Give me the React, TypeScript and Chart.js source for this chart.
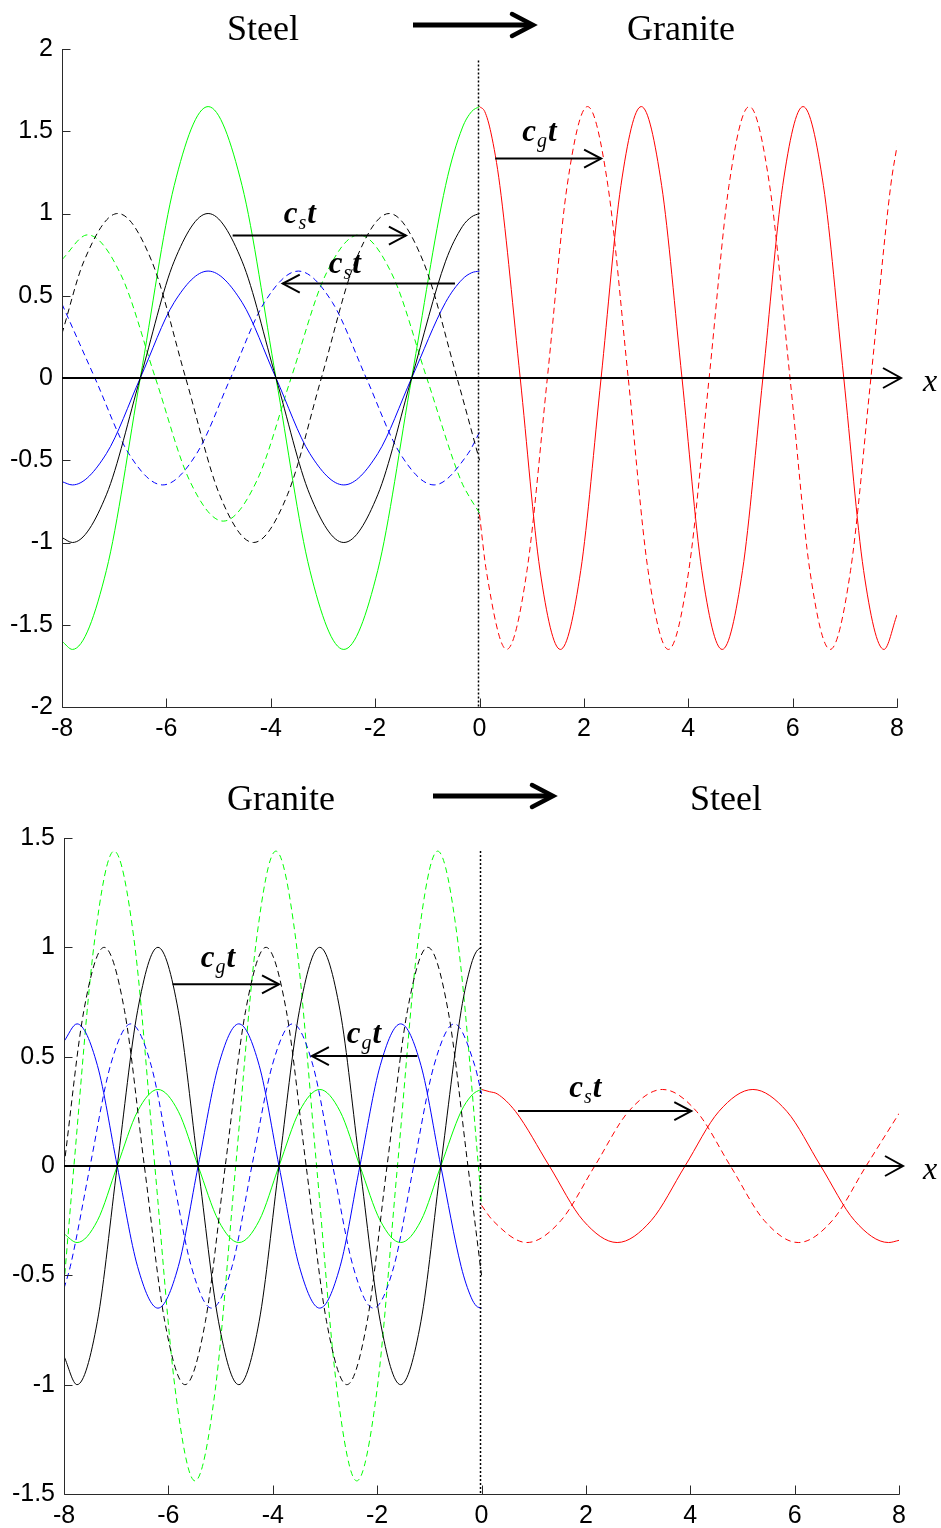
import React, { useEffect, useRef } from "react";
import { Chart, registerables } from "chart.js";

Chart.register(...registerables);

// ================= TOP PANEL: Steel -> Granite =================
// steel side (x <= 0), solid curves share one x grid
const topSolidX = [-8, -7.8, -7.15, -6.5, -5.85, -5.2, -4.55, -3.9, -3.25, -2.6, -1.95, -1.3, -0.65, -0.33, -0.15, 0];
const topBlackSolid = [-0.97, -1, -0.71, 0, 0.71, 1, 0.71, 0, -0.71, -1, -0.71, 0, 0.71, 0.92, 0.98, 1];
const topBlueSolid = [-0.63, -0.65, -0.46, 0, 0.46, 0.65, 0.46, 0, -0.46, -0.65, -0.46, 0, 0.46, 0.6, 0.64, 0.65];
const topGreenSolid = [-1.6, -1.65, -1.17, 0, 1.17, 1.65, 1.17, 0, -1.17, -1.65, -1.17, 0, 1.17, 1.52, 1.62, 1.65];

const topBlackDashX = [-8, -7.58, -6.93, -6.28, -5.63, -4.98, -4.33, -3.68, -3.03, -2.38, -1.73, -1.08, -0.43, 0];
const topBlackDash = [0.27, 0.71, 1, 0.71, 0, -0.71, -1, -0.71, 0, 0.71, 1, 0.71, 0, -0.5];

const topBlueDashX = [-8, -7.37, -6.72, -6.07, -5.42, -4.77, -4.12, -3.47, -2.82, -2.17, -1.52, -0.87, -0.22, 0];
const topBlueDash = [0.45, 0, -0.46, -0.65, -0.46, 0, 0.46, 0.65, 0.46, 0, -0.46, -0.65, -0.46, -0.33];

const topGreenDashX = [-8, -7.51, -6.86, -6.21, -5.56, -4.91, -4.26, -3.61, -2.96, -2.31, -1.66, -1.01, -0.36, -0.18, 0];
const topGreenDash = [0.72, 0.87, 0.62, 0, -0.62, -0.87, -0.62, 0, 0.62, 0.87, 0.62, 0, -0.62, -0.73, -0.82];

// granite side (x >= 0)
const topRedSolidX = [0, 0.1, 0.22, 0.39, 0.78, 1.16, 1.55, 1.94, 2.33, 2.71, 3.1, 3.49, 3.88, 4.26, 4.65, 5.04, 5.43, 5.81, 6.2, 6.59, 6.98, 7.36, 7.75, 8];
const topRedSolid = [1.65, 1.62, 1.49, 1.17, 0, -1.17, -1.65, -1.17, 0, 1.17, 1.65, 1.17, 0, -1.17, -1.65, -1.17, 0, 1.17, 1.65, 1.17, 0, -1.17, -1.65, -1.44];

const topRedDashX = [0, 0.13, 0.52, 0.91, 1.3, 1.68, 2.07, 2.46, 2.85, 3.23, 3.62, 4.01, 4.4, 4.78, 5.17, 5.56, 5.95, 6.33, 6.72, 7.11, 7.5, 7.88, 8];
const topRedDash = [-0.83, -1.17, -1.65, -1.17, 0, 1.17, 1.65, 1.17, 0, -1.17, -1.65, -1.17, 0, 1.17, 1.65, 1.17, 0, -1.17, -1.65, -1.17, 0, 1.17, 1.41];

// ================= BOTTOM PANEL: Granite -> Steel =================
const botSolidX = [-8, -7.75, -7.36, -6.98, -6.59, -6.2, -5.81, -5.43, -5.04, -4.65, -4.26, -3.88, -3.49, -3.1, -2.71, -2.33, -1.94, -1.55, -1.16, -0.78, -0.39, -0.2, -0.1, 0];
const botBlackSolid = [-0.87, -1, -0.71, 0, 0.71, 1, 0.71, 0, -0.71, -1, -0.71, 0, 0.71, 1, 0.71, 0, -0.71, -1, -0.71, 0, 0.71, 0.92, 0.98, 1];
const botBlueSolid = [0.57, 0.65, 0.46, 0, -0.46, -0.65, -0.46, 0, 0.46, 0.65, 0.46, 0, -0.46, -0.65, -0.46, 0, 0.46, 0.65, 0.46, 0, -0.46, -0.6, -0.64, -0.65];
const botGreenSolid = [-0.31, -0.35, -0.25, 0, 0.25, 0.35, 0.25, 0, -0.25, -0.35, -0.25, 0, 0.25, 0.35, 0.25, 0, -0.25, -0.35, -0.25, 0, 0.25, 0.32, 0.34, 0.35];

const botBlackDashX = [-8, -7.62, -7.23, -6.84, -6.46, -6.07, -5.68, -5.29, -4.91, -4.52, -4.13, -3.74, -3.36, -2.97, -2.58, -2.19, -1.81, -1.42, -1.03, -0.64, -0.26, 0];
const botBlackDash = [0, 0.71, 1, 0.71, 0, -0.71, -1, -0.71, 0, 0.71, 1, 0.71, 0, -0.71, -1, -0.71, 0, 0.71, 1, 0.71, 0, -0.5];

const botBlueDashX = [-8, -7.88, -7.5, -7.11, -6.72, -6.33, -5.95, -5.56, -5.17, -4.78, -4.4, -4.01, -3.62, -3.23, -2.85, -2.46, -2.07, -1.68, -1.3, -0.91, -0.52, -0.13, 0];
const botBlueDash = [-0.56, -0.46, 0, 0.46, 0.65, 0.46, 0, -0.46, -0.65, -0.46, 0, 0.46, 0.65, 0.46, 0, -0.46, -0.65, -0.46, 0, 0.46, 0.65, 0.46, 0.33];

const botGreenDashX = [-8, -7.81, -7.42, -7.04, -6.65, -6.26, -5.87, -5.49, -5.1, -4.71, -4.32, -3.94, -3.55, -3.16, -2.77, -2.39, -2.0, -1.61, -1.22, -0.84, -0.45, -0.06, 0];
const botGreenDash = [-0.54, 0, 1.02, 1.44, 1.02, 0, -1.02, -1.44, -1.02, 0, 1.02, 1.44, 1.02, 0, -1.02, -1.44, -1.02, 0, 1.02, 1.44, 1.02, 0, -0.18];

const botRedSolidX = [0, 0.15, 0.3, 0.65, 1.3, 1.95, 2.6, 3.25, 3.9, 4.55, 5.2, 5.85, 6.5, 7.15, 7.8, 8];
const botRedSolid = [0.35, 0.34, 0.33, 0.25, 0, -0.25, -0.35, -0.25, 0, 0.25, 0.35, 0.25, 0, -0.25, -0.35, -0.34];

const botRedDashX = [0, 0.22, 0.87, 1.52, 2.17, 2.82, 3.47, 4.12, 4.77, 5.42, 6.07, 6.72, 7.37, 8];
const botRedDash = [-0.18, -0.25, -0.35, -0.25, 0, 0.25, 0.35, 0.25, 0, -0.25, -0.35, -0.25, 0, 0.24];

// ================= ticks =================
const xTicks = [-8, -6, -4, -2, 0, 2, 4, 6, 8];
const xTickLabels = ["-8", "-6", "-4", "-2", "0", "2", "4", "6", "8"];
const topYTicks = [-2, -1.5, -1, -0.5, 0, 0.5, 1, 1.5, 2];
const topYTickLabels = ["-2", "-1.5", "-1", "-0.5", "0", "0.5", "1", "1.5", "2"];
const botYTicks = [-1.5, -1, -0.5, 0, 0.5, 1, 1.5];
const botYTickLabels = ["-1.5", "-1", "-0.5", "0", "0.5", "1", "1.5"];

// ================= annotations (data coords) =================
const topArrowsX1 = [-4.73, -0.47, 0.3];
const topArrowsX2 = [-1.41, -3.77, 2.33];
const topArrowsY = [0.866, 0.574, 1.334];
const topLabelX = [-3.75, -2.89, 0.82];
const topLabelY = [0.945, 0.641, 1.438];
const topLabelSub = ["s", "s", "g"];
const topDottedFrom = 1.93;

const botArrowsX1 = [-5.92, -1.23, 0.7];
const botArrowsX2 = [-3.88, -3.25, 4.02];
const botArrowsY = [0.831, 0.503, 0.251];
const botLabelX = [-5.38, -2.58, 1.68];
const botLabelY = [0.909, 0.562, 0.315];
const botLabelSub = ["g", "g", "s"];
const botDottedFrom = 1.44;

const topTitles = ["Steel", "Granite"];
const botTitles = ["Granite", "Steel"];

const BLACK = "#000000";
const BLUE = "#0000ff";
const GREEN = "#00ff00";
const RED = "#ff0000";

function ds(xs: number[], ys: number[], color: string, dashed: boolean) {
  return {
    data: xs.map((x, i) => ({ x, y: ys[i] })),
    borderColor: color,
    borderWidth: 1,
    borderDash: dashed ? [6, 4] : [],
    pointRadius: 0,
    fill: false,
    cubicInterpolationMode: "monotone",
  };
}

type Layout = {
  left: number;
  right: number;
  top: number;
  bottom: number;
  titleX: number[];
  titleBaseline: number;
  bigArrow: [number, number, number];
};

type PanelCfg = {
  datasets: any[];
  yMin: number;
  yMax: number;
  yTicks: number[];
  yTickLabels: string[];
  arrowsX1: number[];
  arrowsX2: number[];
  arrowsY: number[];
  labelX: number[];
  labelY: number[];
  labelSub: string[];
  dottedFrom: number;
  titles: string[];
  layout: Layout;
};

function arrowHead(ctx: CanvasRenderingContext2D, tx: number, ty: number, dir: number, dx: number, dy: number) {
  ctx.beginPath();
  ctx.moveTo(tx - dir * dx, ty - dy);
  ctx.lineTo(tx, ty);
  ctx.lineTo(tx - dir * dx, ty + dy);
  ctx.stroke();
}

function makeOverlay(p: PanelCfg) {
  return {
    id: "overlay",
    afterDatasetsDraw(chart: any) {
      const ctx: CanvasRenderingContext2D = chart.ctx;
      const a = chart.chartArea;
      const sx = chart.scales.x;
      const sy = chart.scales.y;
      const X = (v: number) => sx.getPixelForValue(v);
      const Y = (v: number) => sy.getPixelForValue(v);
      ctx.save();

      // boundary dotted line at x = 0
      ctx.strokeStyle = BLACK;
      ctx.lineWidth = 1.5;
      ctx.setLineDash([2, 2]);
      ctx.beginPath();
      const bx = X(0) - 1;
      ctx.moveTo(bx, Y(p.dottedFrom));
      ctx.lineTo(bx, a.bottom);
      ctx.stroke();
      ctx.setLineDash([]);

      // axes
      ctx.strokeStyle = "#2a2a2a";
      ctx.lineWidth = 1;
      const L = Math.round(a.left) + 0.5;
      const B = Math.round(a.bottom) + 0.5;
      ctx.beginPath();
      ctx.moveTo(L, Math.round(a.top));
      ctx.lineTo(L, B);
      ctx.lineTo(Math.round(a.right) + 0.5, B);
      p.yTicks.forEach((v) => {
        const py = Math.round(Y(v)) + 0.5;
        ctx.moveTo(L, py);
        ctx.lineTo(L + 8, py);
      });
      xTicks.forEach((v) => {
        const px = Math.round(X(v)) + 0.5;
        ctx.moveTo(px, B);
        ctx.lineTo(px, B - 9);
      });
      ctx.stroke();

      // x axis arrow along y = 0
      const y0 = Y(0);
      const tip = a.right + 4;
      ctx.strokeStyle = BLACK;
      ctx.lineWidth = 2;
      ctx.beginPath();
      ctx.moveTo(a.left, y0);
      ctx.lineTo(tip, y0);
      ctx.stroke();
      arrowHead(ctx, tip, y0, 1, 18, 10);
      ctx.fillStyle = BLACK;
      ctx.font = 'italic 32px "Liberation Serif"';
      ctx.textAlign = "center";
      ctx.textBaseline = "alphabetic";
      ctx.fillText("x", 930, y0 + 13);

      // wave-front arrows
      ctx.lineWidth = 2;
      for (let i = 0; i < p.arrowsX1.length; i++) {
        const x1 = X(p.arrowsX1[i]);
        const x2 = X(p.arrowsX2[i]);
        const yy = Y(p.arrowsY[i]);
        ctx.beginPath();
        ctx.moveTo(x1, yy);
        ctx.lineTo(x2, yy);
        ctx.stroke();
        arrowHead(ctx, x2, yy, x2 > x1 ? 1 : -1, 17, 9);
      }

      // c_s t / c_g t labels
      ctx.textAlign = "left";
      const mainFont = 'italic bold 31px "Liberation Serif"';
      const subFont = 'italic 20px "Liberation Serif"';
      for (let i = 0; i < p.labelX.length; i++) {
        const px = X(p.labelX[i]);
        const py = Y(p.labelY[i]);
        ctx.font = mainFont;
        ctx.fillText("c", px, py);
        const w1 = ctx.measureText("c").width;
        ctx.font = subFont;
        ctx.fillText(p.labelSub[i], px + w1 + 1, py + 6);
        const w2 = ctx.measureText(p.labelSub[i]).width;
        ctx.font = mainFont;
        ctx.fillText("t", px + w1 + w2 + 2, py);
      }

      // titles + big arrow (layout, above the axes)
      const lay = p.layout;
      ctx.font = '36px "Liberation Serif"';
      ctx.textAlign = "center";
      p.titles.forEach((t, i) => ctx.fillText(t, lay.titleX[i], lay.titleBaseline));
      const [ax1, ax2, ay] = lay.bigArrow;
      ctx.lineWidth = 5;
      ctx.beginPath();
      ctx.moveTo(ax1, ay);
      ctx.lineTo(ax2 - 3, ay);
      ctx.stroke();
      ctx.lineWidth = 4.5;
      ctx.lineCap = "round";
      ctx.lineJoin = "miter";
      arrowHead(ctx, ax2, ay, 1, 21, 11);

      ctx.restore();
    },
  };
}

function Panel({ cfg, top }: { cfg: PanelCfg; top: number }) {
  const ref = useRef<HTMLCanvasElement>(null);
  useEffect(() => {
    const lay = cfg.layout;
    const H = 764;
    const W = 941;
    const chart = new Chart(ref.current as HTMLCanvasElement, {
      type: "line",
      data: { datasets: cfg.datasets as any },
      plugins: [makeOverlay(cfg) as any],
      options: {
        animation: false,
        responsive: false,
        maintainAspectRatio: false,
        events: [],
        layout: {
          padding: { left: 0, right: W - lay.right, top: lay.top, bottom: H - lay.bottom - 30 },
        },
        plugins: { legend: { display: false }, tooltip: { enabled: false }, title: { display: false } },
        scales: {
          x: {
            type: "linear",
            min: -8,
            max: 8,
            afterBuildTicks: (s: any) => {
              s.ticks = xTicks.map((v) => ({ value: v }));
            },
            afterFit: (s: any) => {
              s.height = 30;
            },
            grid: { display: false, drawTicks: false },
            border: { display: false },
            ticks: {
              padding: 7,
              color: "#000",
              font: { family: '"Liberation Sans", Arial, sans-serif', size: 25 },
              maxRotation: 0,
              autoSkip: false,
              callback: (v: any) => {
                const i = xTicks.indexOf(Number(v));
                return i >= 0 ? xTickLabels[i] : "";
              },
            },
          },
          y: {
            type: "linear",
            min: cfg.yMin,
            max: cfg.yMax,
            afterBuildTicks: (s: any) => {
              s.ticks = cfg.yTicks.map((v) => ({ value: v }));
            },
            afterFit: (s: any) => {
              s.width = lay.left;
            },
            grid: { display: false, drawTicks: false },
            border: { display: false },
            ticks: {
              padding: 9,
              color: "#000",
              font: { family: '"Liberation Sans", Arial, sans-serif', size: 25 },
              autoSkip: false,
              callback: (v: any) => {
                const i = cfg.yTicks.indexOf(Number(v));
                return i >= 0 ? cfg.yTickLabels[i] : "";
              },
            },
          },
        },
      } as any,
    });
    return () => chart.destroy();
  }, [cfg]);
  return (
    <canvas
      ref={ref}
      width={941}
      height={764}
      style={{ position: "absolute", left: 0, top, width: 941, height: 764, display: "block" }}
    />
  );
}

const topCfg: PanelCfg = {
  datasets: [
    ds(topSolidX, topBlackSolid, BLACK, false),
    ds(topBlackDashX, topBlackDash, BLACK, true),
    ds(topSolidX, topBlueSolid, BLUE, false),
    ds(topBlueDashX, topBlueDash, BLUE, true),
    ds(topSolidX, topGreenSolid, GREEN, false),
    ds(topGreenDashX, topGreenDash, GREEN, true),
    ds(topRedSolidX, topRedSolid, RED, false),
    ds(topRedDashX, topRedDash, RED, true),
  ],
  yMin: -2,
  yMax: 2,
  yTicks: topYTicks,
  yTickLabels: topYTickLabels,
  arrowsX1: topArrowsX1,
  arrowsX2: topArrowsX2,
  arrowsY: topArrowsY,
  labelX: topLabelX,
  labelY: topLabelY,
  labelSub: topLabelSub,
  dottedFrom: topDottedFrom,
  titles: topTitles,
  layout: { left: 62, right: 897, top: 49, bottom: 707, titleX: [263, 681], titleBaseline: 40, bigArrow: [413, 533, 25] },
};

const botCfg: PanelCfg = {
  datasets: [
    ds(botSolidX, botBlackSolid, BLACK, false),
    ds(botBlackDashX, botBlackDash, BLACK, true),
    ds(botSolidX, botBlueSolid, BLUE, false),
    ds(botBlueDashX, botBlueDash, BLUE, true),
    ds(botSolidX, botGreenSolid, GREEN, false),
    ds(botGreenDashX, botGreenDash, GREEN, true),
    ds(botRedSolidX, botRedSolid, RED, false),
    ds(botRedDashX, botRedDash, RED, true),
  ],
  yMin: -1.5,
  yMax: 1.5,
  yTicks: botYTicks,
  yTickLabels: botYTickLabels,
  arrowsX1: botArrowsX1,
  arrowsX2: botArrowsX2,
  arrowsY: botArrowsY,
  labelX: botLabelX,
  labelY: botLabelY,
  labelSub: botLabelSub,
  dottedFrom: botDottedFrom,
  titles: botTitles,
  layout: { left: 64, right: 899, top: 74, bottom: 730, titleX: [281, 726], titleBaseline: 46, bigArrow: [433, 553, 32] },
};

export default function App() {
  return (
    <div style={{ position: "absolute", left: 0, top: 0, width: 941, height: 1528, background: "#fff" }}>
      <Panel cfg={topCfg} top={0} />
      <Panel cfg={botCfg} top={764} />
    </div>
  );
}
